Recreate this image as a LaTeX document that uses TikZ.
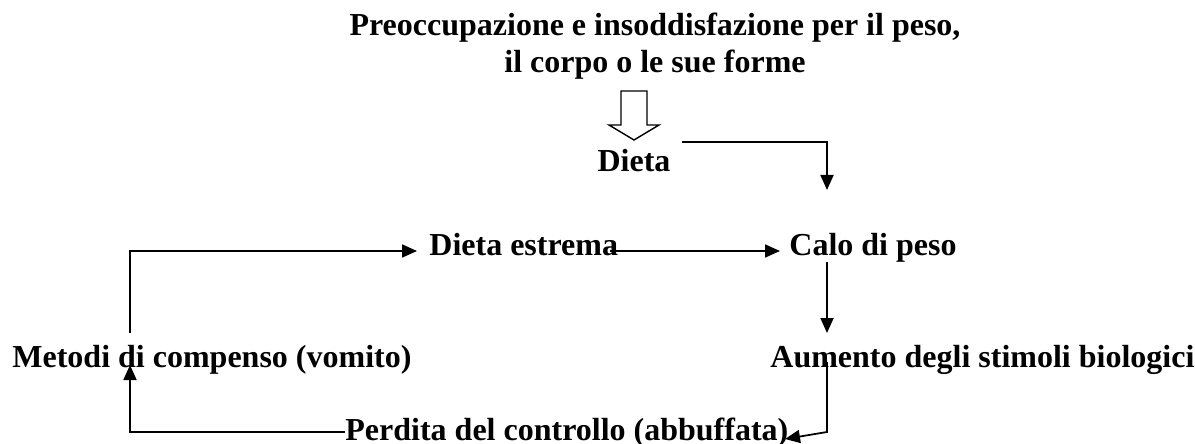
\documentclass[tikz,border=0pt]{standalone}
\usepackage{fontspec}
\setmainfont{Liberation Serif}
\usetikzlibrary{arrows.meta}
\tikzset{
  lbl/.style={inner sep=0pt, font=\bfseries\fontsize{16}{18.5}\selectfont},
  conn/.style={line width=0.9pt},
  arr/.style={conn, -{Triangle[length=7.5pt,width=6.5pt]}},
  hollow/.style={line width=0.7pt, fill=white, line join=miter}
}
\begin{document}
\begin{tikzpicture}[x=0.5pt,y=-0.5pt]
\useasboundingbox (0,0) rectangle (1195,444);
% texts
\node[lbl, anchor=north, align=center] (title) at (655,13)
  {Preoccupazione e insoddisfazione per il peso,\\il corpo o le sue forme};
\node[lbl, anchor=base] (dieta) at (634,172) {Dieta};
\node[lbl, anchor=base west] (estrema) at (429,256) {Dieta estrema};
\node[lbl, anchor=base west] (calo) at (789,256) {Calo di peso};
\node[lbl, anchor=base west] (aumento) at (770,367) {Aumento degli stimoli biologici};
\node[lbl, anchor=base west] (metodi) at (12,367) {Metodi di compenso (vomito)};
\node[lbl, anchor=base west] (perdita) at (345,440) {Perdita del controllo (abbuffata)};
% hollow arrow between title and Dieta
\draw[hollow] (621,91) -- (647,91) -- (647,125) -- (659,125) -- (634,140)
  -- (609,125) -- (621,125) -- cycle;
% connector endpoints
\coordinate (dA) at (682,142);
\coordinate (dB) at (827,190);
\coordinate (mA) at (130,333);
\coordinate (eIn) at (417,251);
\coordinate (eOut) at (610,251);
\coordinate (cIn) at (780,251);
\coordinate (cOut) at (827,262);
\coordinate (aIn) at (827,333);
\coordinate (aOut) at (827,362);
\coordinate (aCorner) at (827,432);
\coordinate (pIn) at (785,439);
\coordinate (pOut) at (345,432);
\coordinate (mIn) at (130,365);
% connectors
\draw[arr] (dA) -| (dB);
\draw[arr] (mA) |- (eIn);
\draw[arr] (eOut) -- (cIn);
\draw[arr] (cOut) -- (aIn);
\draw[arr] (aOut) -- (aCorner) -- (pIn);
\draw[arr] (pOut) -| (mIn);
\end{tikzpicture}
\end{document}
